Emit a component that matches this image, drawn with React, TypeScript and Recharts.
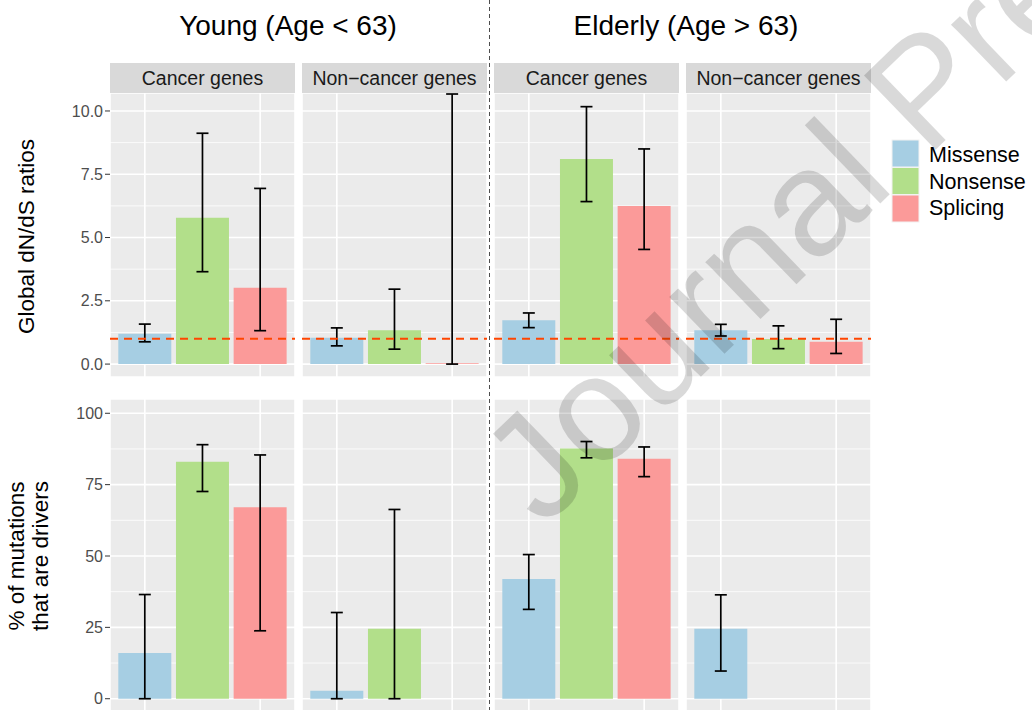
import React from 'react';
import { BarChart, Bar, Cell, XAxis, YAxis, CartesianGrid, ReferenceLine, ErrorBar } from 'recharts';

const mutationTypes = ['Missense', 'Nonsense', 'Splicing'];
const typeColors = ['#A6CEE3', '#B2DF8A', '#FB9A99'];

// top row: global dN/dS ratios with confidence intervals
const dndsYoungCancer = [1.2, 5.78, 3.02];
const dndsYoungCancerCI = [[0.88, 1.58], [3.65, 9.12], [1.32, 6.94]];
const dndsYoungNonCancer = [1.04, 1.34, 0.03];
const dndsYoungNonCancerCI = [[0.72, 1.43], [0.59, 2.96], [0, 10.67]];
const dndsElderlyCancer = [1.73, 8.1, 6.25];
const dndsElderlyCancerCI = [[1.44, 2.02], [6.42, 10.17], [4.53, 8.5]];
const dndsElderlyNonCancer = [1.34, 0.99, 0.88];
const dndsElderlyNonCancerCI = [[1.11, 1.57], [0.61, 1.51], [0.42, 1.77]];

// bottom row: % of mutations that are drivers
const driversYoungCancer = [16, 83, 67.1];
const driversYoungCancerCI = [[0, 36.5], [72.6, 89], [23.8, 85.4]];
const driversYoungNonCancer = [2.8, 24.5, null];
const driversYoungNonCancerCI = [[0, 30.2], [0, 66.3], null];
const driversElderlyCancer = [41.9, 87.7, 84.1];
const driversElderlyCancerCI = [[31.3, 50.5], [84.4, 90.1], [77.8, 88.2]];
const driversElderlyNonCancer = [24.5, null, null];
const driversElderlyNonCancerCI = [[9.7, 36.4], null, null];

const dndsTicks = [0, 2.5, 5, 7.5, 10];
const dndsMinor = [1.25, 3.75, 6.25, 8.75];
const driverTicks = [0, 25, 50, 75, 100];
const driverMinor = [12.5, 37.5, 62.5, 87.5];
const neutralRatio = 1;

const groupTitles = ['Young (Age < 63)', 'Elderly (Age > 63)'];
const stripLabels = ['Cancer genes', 'Non\u2212cancer genes'];

const FONT = '"Liberation Sans", Arial, Helvetica, sans-serif';
const panelX = [110, 302, 494, 686];
const PANEL_W = 185;
const AXIS_W = 60;

type CI = number[] | null;

interface PanelProps {
  values: (number | null)[];
  ci: CI[];
  col: number;
  top: number;
  height: number;
  domain: [number, number];
  ticks: number[];
  minor: number[];
  fmt: (v: number) => string;
  refLine?: boolean;
}

const Panel = ({ values, ci, col, top, height, domain, ticks, minor, fmt, refLine }: PanelProps) => {
  const data = mutationTypes.map((t, i) => {
    const v = values[i];
    const c = ci[i];
    return {
      type: t,
      value: v,
      err: v == null || c == null ? null : [v - c[0], c[1] - v],
    };
  });
  const showAxis = col === 0;
  const width = showAxis ? PANEL_W + AXIS_W : PANEL_W;
  const left = showAxis ? panelX[col] - AXIS_W : panelX[col];

  return (
    <div style={{ position: 'absolute', left, top }}>
      <BarChart width={width} height={height} data={data} margin={{ top: 0, right: 0, bottom: 0, left: 0 }} barCategoryGap="4%">
        <CartesianGrid fill="#EBEBEB" stroke="#FFFFFF" strokeWidth={1.6} />
        <CartesianGrid horizontalValues={minor} vertical={false} stroke="#FFFFFF" strokeWidth={0.8} />
        <XAxis dataKey="type" type="category" hide padding={{ left: 6, right: 6 }} />
        <YAxis
          type="number"
          domain={domain}
          ticks={ticks}
          allowDataOverflow
          hide={!showAxis}
          width={AXIS_W}
          axisLine={false}
          tickSize={5}
          tickMargin={2}
          tickLine={{ stroke: '#333333' }}
          tick={{ fill: '#4D4D4D', fontSize: 16, fontFamily: FONT }}
          tickFormatter={fmt}
          interval={0}
        />
        <Bar dataKey="value" isAnimationActive={false}>
          {data.map((d, i) => (
            <Cell key={d.type} fill={typeColors[i]} />
          ))}
          <ErrorBar dataKey="err" width={6} stroke="#000000" strokeWidth={1.7} isAnimationActive={false} />
        </Bar>
        {refLine && <ReferenceLine y={neutralRatio} stroke="#FF4500" strokeWidth={2} strokeDasharray="8 6" />}
      </BarChart>
    </div>
  );
};

const Strip = ({ col, label }: { col: number; label: string }) => (
  <div
    style={{
      position: 'absolute',
      left: panelX[col],
      top: 63,
      width: PANEL_W,
      height: 30,
      background: '#D9D9D9',
      color: '#1A1A1A',
      fontSize: 19.5,
      lineHeight: '30px',
      paddingTop: 0,
      boxSizing: 'border-box',
      textAlign: 'center',
      whiteSpace: 'nowrap',
    }}
  >
    {label}
  </div>
);

const dndsFmt = (v: number) => v.toFixed(1);
const pctFmt = (v: number) => String(v);

export default function App() {
  const topRow = { top: 93, height: 284, domain: [-0.51, 10.71] as [number, number], ticks: dndsTicks, minor: dndsMinor, fmt: dndsFmt, refLine: true };
  const bottomRow = { top: 399, height: 314, domain: [-5, 105] as [number, number], ticks: driverTicks, minor: driverMinor, fmt: pctFmt };

  return (
    <div
      style={{
        position: 'absolute',
        left: 0,
        top: 0,
        width: 1032,
        height: 710,
        overflow: 'hidden',
        background: '#FFFFFF',
        fontFamily: FONT,
      }}
    >
      {[0, 1, 2, 3].map((c) => (
        <Strip key={c} col={c} label={stripLabels[c % 2]} />
      ))}

      <Panel values={dndsYoungCancer} ci={dndsYoungCancerCI} col={0} {...topRow} />
      <Panel values={dndsYoungNonCancer} ci={dndsYoungNonCancerCI} col={1} {...topRow} />
      <Panel values={dndsElderlyCancer} ci={dndsElderlyCancerCI} col={2} {...topRow} />
      <Panel values={dndsElderlyNonCancer} ci={dndsElderlyNonCancerCI} col={3} {...topRow} />

      <Panel values={driversYoungCancer} ci={driversYoungCancerCI} col={0} {...bottomRow} />
      <Panel values={driversYoungNonCancer} ci={driversYoungNonCancerCI} col={1} {...bottomRow} />
      <Panel values={driversElderlyCancer} ci={driversElderlyCancerCI} col={2} {...bottomRow} />
      <Panel values={driversElderlyNonCancer} ci={driversElderlyNonCancerCI} col={3} {...bottomRow} />

      <svg width={1032} height={710} style={{ position: 'absolute', left: 0, top: 0, pointerEvents: 'none' }} fontFamily={FONT}>
        <text x={288} y={35} textAnchor="middle" fontSize={28} fill="#000">{groupTitles[0]}</text>
        <text x={686} y={35} textAnchor="middle" fontSize={28} fill="#000">{groupTitles[1]}</text>

        <line x1={489.5} y1={0} x2={489.5} y2={710} stroke="#4D4D4D" strokeWidth={1} strokeDasharray="4 3" />

        <text transform="translate(34,236.5) rotate(-90)" textAnchor="middle" fontSize={22.5} fill="#000">Global dN/dS ratios</text>
        <text transform="translate(24,556) rotate(-90)" textAnchor="middle" fontSize={22.5} fill="#000">% of mutations</text>
        <text transform="translate(48,556) rotate(-90)" textAnchor="middle" fontSize={22.5} fill="#000">that are drivers</text>

        {mutationTypes.map((t, i) => (
          <g key={t}>
            <rect x={892} y={140 + i * 27.5} width={27} height={27} fill={typeColors[i]} stroke="#F2F2F2" strokeWidth={1} />
            <text x={929} y={162 + i * 26.7} fontSize={21.5} fill="#000">{t}</text>
          </g>
        ))}

        <text transform="translate(543,529) rotate(-44)" fontSize={150} fill="rgba(0,0,0,0.15)">Journal Pre-proof</text>
      </svg>
    </div>
  );
}
